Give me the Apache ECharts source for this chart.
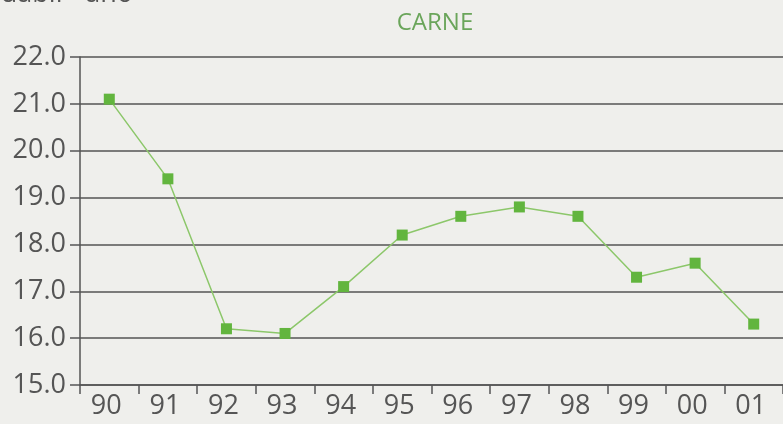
<!DOCTYPE html>
<html>
<head>
<meta charset="utf-8">
<script src="https://cdn.jsdelivr.net/npm/echarts@6/dist/echarts.min.js"></script>
<style>
  html, body { margin: 0; padding: 0; background: #efefec; }
  #chart { width: 783px; height: 424px; }
</style>
</head>
<body>
<div id="chart"></div>
<script>
const years = ["90", "91", "92", "93", "94", "95", "96", "97", "98", "99", "00", "01"]
const carne = [21.1, 19.4, 16.2, 16.1, 17.1, 18.2, 18.6, 18.8, 18.6, 17.3, 17.6, 16.3]
const chartTitle = "CARNE"
const cornerText = "idabil - año"

const chart = echarts.init(document.getElementById("chart"))

const axisFont = {
    fontFamily: "Open Sans",
    fontSize: 27,
    color: "#555",
}

chart.setOption({
    backgroundColor: "#efefec",
    animation: false,
    title: {
        text: chartTitle,
        left: 430,
        top: 6,
        textAlign: "center",
        textStyle: {
            fontFamily: "Open Sans",
            fontWeight: "normal",
            fontSize: 24,
            color: "#6aa55a",
        },
    },
    graphic: [
        {
            type: "text",
            left: -6,
            top: -19,
            style: {
                text: cornerText,
                font: "27px 'Open Sans'",
                fill: "#555",
            },
        },
    ],
    grid: {
        left: 80,
        right: 0,
        top: 57,
        bottom: 39,
    },
    xAxis: {
        type: "category",
        data: years,
        boundaryGap: true,
        axisLine: { lineStyle: { color: "#555", width: 1.5 } },
        axisTick: {
            show: true,
            length: 9,
            lineStyle: { color: "#555", width: 1.5 },
        },
        axisLabel: { ...axisFont, margin: 8, padding: [0, 6, 0, 0] },
    },
    yAxis: {
        type: "value",
        min: 15,
        max: 22,
        interval: 1,
        axisLine: { show: true, lineStyle: { color: "#555", width: 1.5 } },
        axisTick: {
            show: true,
            length: 10,
            lineStyle: { color: "#555", width: 1.5 },
        },
        splitLine: { lineStyle: { color: "#555", width: 1.5 } },
        axisLabel: {
            ...axisFont,
            margin: 14,
            formatter: (v) => v.toFixed(1),
        },
    },
    series: [
        {
            name: chartTitle,
            type: "line",
            data: carne,
            symbol: "rect",
            symbolSize: 11,
            itemStyle: { color: "#62b53e" },
            lineStyle: { color: "#8cc76a", width: 1.5 },
        },
    ],
})
</script>
</body>
</html>
